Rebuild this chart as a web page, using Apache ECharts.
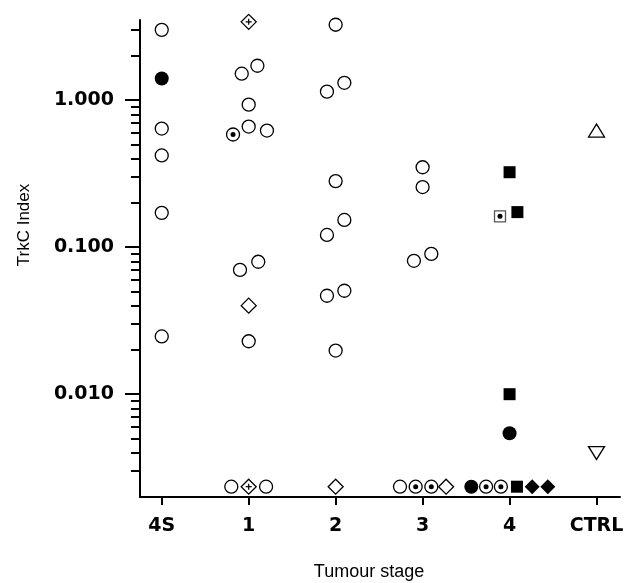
<!DOCTYPE html>
<html>
<head>
<meta charset="utf-8">
<script src="https://cdn.jsdelivr.net/npm/echarts@6/dist/echarts.min.js"></script>
<style>
  html, body { margin: 0; padding: 0; background: #fff; }
  #chart { width: 629px; height: 583px; }
</style>
</head>
<body>
<div id="chart"></div>
<script>
// tumour stage categories, positioned at 0..5 on the x axis
var stages = ['4S', '1', '2', '3', '4', 'CTRL'];
var stageTicks = [0, 1, 2, 3, 4, 5];

// y axis ticks (log scale)
var majorTicks = [0.01, 0.1, 1];
var minorTicks = [0.003, 0.004, 0.005, 0.006, 0.007, 0.008, 0.009,
  0.02, 0.03, 0.04, 0.05, 0.06, 0.07, 0.08, 0.09,
  0.2, 0.3, 0.4, 0.5, 0.6, 0.7, 0.8, 0.9, 2, 3];

// below detection limit, plotted on the bottom row
var UND = 0.00235;

// [x position (stage + jitter), TrkC index]
var openCircles = [
  [0, 3.0], [0, 0.64], [0, 0.42], [0, 0.171], [0, 0.0247],
  [0.92, 1.51], [1.10, 1.71], [1.0, 0.93], [1.0, 0.66], [1.21, 0.62],
  [0.90, 0.070], [1.11, 0.0795], [1.0, 0.0229], [0.80, UND], [1.20, UND],
  [2.0, 3.25], [1.90, 1.14], [2.10, 1.31], [2.0, 0.281], [1.90, 0.121],
  [2.10, 0.153], [1.90, 0.0467], [2.10, 0.0505], [2.0, 0.0198],
  [3.0, 0.349], [3.0, 0.256], [2.90, 0.0807], [3.10, 0.0899], [2.74, UND]
];
var filledCircles = [[0, 1.40], [4.0, 0.00543], [3.56, UND]];
var dotCircles = [[0.82, 0.583], [2.92, UND], [3.10, UND], [3.73, UND], [3.90, UND]];
var openDiamonds = [[1.0, 0.040], [2.0, UND], [3.27, UND]];
var crossDiamonds = [[1.0, 3.4], [1.0, UND]];
var filledDiamonds = [[4.26, UND], [4.44, UND]];
var filledSquares = [[4.0, 0.323], [4.09, 0.173], [4.0, 0.0100], [4.085, UND]];
var dotSquares = [[3.89, 0.162]];
var ctrlUp = [[5.0, 0.62]];
var ctrlDown = [[5.0, 0.00398]];

var chart = echarts.init(document.getElementById('chart'), null, { renderer: 'canvas' });

var plus = 'path://M4,0H6V4H10V6H6V10H4V6H0V4H4Z';
var tickFont = { color: '#000', fontFamily: 'DejaVu Sans', fontWeight: 'bold', fontSize: 19 };

function pts(data, symbol, size, fill, border, extra) {
  var s = {
    type: 'scatter',
    data: data,
    symbol: symbol,
    symbolSize: size,
    silent: true,
    itemStyle: { color: fill, borderColor: border || '#000', borderWidth: border ? 1.3 : 0, opacity: 1 }
  };
  if (extra) for (var k in extra) s[k] = extra[k];
  return s;
}

var option = {
  animation: false,
  grid: { left: 140, right: 9, top: 20, bottom: 86, containLabel: false },
  xAxis: {
    type: 'value',
    min: -0.25,
    max: 5.27,
    splitLine: { show: false },
    axisLine: { show: true, onZero: false, lineStyle: { color: '#000', width: 2 } },
    axisTick: { show: true, length: 8, customValues: stageTicks, lineStyle: { color: '#000', width: 2 } },
    axisLabel: Object.assign({
      customValues: stageTicks,
      margin: 20,
      formatter: function (v) { return stages[Math.round(v)]; }
    }, tickFont)
  },
  yAxis: [{
    type: 'log',
    logBase: 10,
    min: 0.002,
    max: 3.5,
    position: 'left',
    splitLine: { show: false },
    axisLine: { show: true, onZero: false, lineStyle: { color: '#000', width: 2 } },
    axisTick: { show: true, length: 15, customValues: majorTicks, lineStyle: { color: '#000', width: 2 } },
    axisLabel: Object.assign({
      customValues: majorTicks,
      margin: 26,
      formatter: function (v) { return Number(v).toFixed(3); }
    }, tickFont)
  }, {
    type: 'log',
    logBase: 10,
    min: 0.002,
    max: 3.5,
    position: 'left',
    splitLine: { show: false },
    axisLine: { show: false, onZero: false },
    axisTick: { show: true, length: 9, customValues: minorTicks, lineStyle: { color: '#000', width: 2 } },
    axisLabel: { show: false }
  }],
  graphic: [
    {
      type: 'text', x: 24, y: 225, rotation: Math.PI / 2,
      style: { text: 'TrkC Index', font: '17px "Liberation Sans", Arial, sans-serif', fill: '#000', align: 'center', verticalAlign: 'middle' }
    },
    {
      type: 'text', x: 369, y: 572,
      style: { text: 'Tumour stage', font: '18px "Liberation Sans", Arial, sans-serif', fill: '#000', align: 'center', verticalAlign: 'middle' }
    }
  ],
  series: [
    pts(openCircles, 'circle', 13, '#fff', '#000'),
    pts(filledCircles, 'circle', 14, '#000'),
    pts(dotCircles, 'circle', 13, '#fff', '#000'),
    pts(dotCircles, 'circle', 5, '#000'),
    pts(openDiamonds, 'diamond', 15, '#fff', '#000'),
    pts(crossDiamonds, 'diamond', 15, '#fff', '#000'),
    pts(crossDiamonds, plus, 6, '#000'),
    pts(filledDiamonds, 'diamond', 15, '#000'),
    pts(filledSquares, 'rect', 12, '#000'),
    pts(dotSquares, 'rect', 11, '#fff', '#555'),
    pts(dotSquares, 'circle', 5, '#000'),
    pts(ctrlUp, 'triangle', [16, 13], '#fff', '#000'),
    pts(ctrlDown, 'triangle', [16, 13], '#fff', '#000', { symbolRotate: 180 })
  ]
};

chart.setOption(option);
window.addEventListener('resize', function () { chart.resize(); });
</script>
</body>
</html>
